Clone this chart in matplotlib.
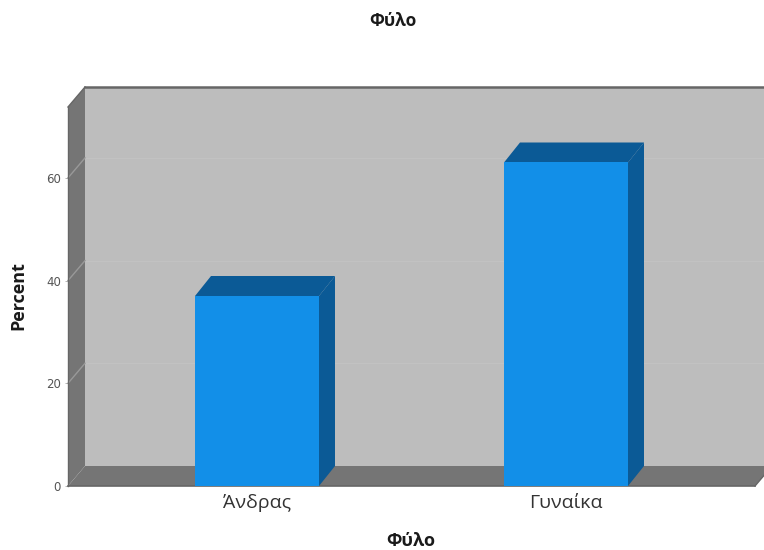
import matplotlib
matplotlib.use("Agg")
import matplotlib.pyplot as plt
from matplotlib.patches import Polygon, Rectangle

categories = ["Άνδρας", "Γυναίκα"]
percent = [37.0, 63.0]
y_ticks = [0, 20, 40, 60]
title_text = "Φύλο"
x_label = "Φύλο"
y_label = "Percent"

WALL = "#bdbdbd"
SIDE = "#757575"
EDGE = "#666666"
BAR = "#128fe8"
BAR_DARK = "#0b5a96"
GRID = "#c2c2c2"
GRID_SIDE = "#999999"

W, H = 764, 550
fig = plt.figure(figsize=(W / 100, H / 100), dpi=100, facecolor="white")
left, right, bottom, top = 68, 755, 486, 107
ax = fig.add_axes([left / W, 1 - bottom / H, (right - left) / W, (bottom - top) / H])

px_per_cat = 309
px_per_unit = 5.135
x0 = 257
ax.set_xlim((left - x0) / px_per_cat, (right - x0) / px_per_cat)
ax.set_ylim(0, (bottom - top) / px_per_unit)
xmin, xmax = ax.get_xlim()
ymin, ymax = ax.get_ylim()

# Oblique offset of the rear plane, in data units
dx = 17 / px_per_cat
dy = 20 / px_per_unit
bar_w = 124 / px_per_cat
bar_dx = 16 / px_per_cat


def poly(points, color, z, **kw):
    ax.add_patch(Polygon(points, closed=True, facecolor=color, edgecolor="none",
                         zorder=z, clip_on=False, **kw))


# Back wall, floor and left wall
poly([(xmin + dx, dy), (xmax + dx, dy), (xmax + dx, ymax + dy), (xmin + dx, ymax + dy)], WALL, 1)
poly([(xmin, 0), (xmax, 0), (xmax + dx, dy), (xmin + dx, dy)], SIDE, 2)
poly([(xmin, 0), (xmin + dx, dy), (xmin + dx, ymax + dy), (xmin, ymax)], SIDE, 2)

# Gridlines run along the back wall and fold down the left wall
for t in y_ticks[1:]:
    ax.plot([xmin + dx, xmax + dx], [t + dy, t + dy], color=GRID, lw=1, zorder=3, clip_on=False)
    ax.plot([xmin, xmin + dx], [t, t + dy], color=GRID_SIDE, lw=1, zorder=3, clip_on=False)

# Frame edges
ax.plot([xmin + dx, xmax + dx], [ymax + dy, ymax + dy], color=EDGE, lw=1.8, zorder=4, clip_on=False)
ax.plot([xmin, xmin + dx], [ymax, ymax + dy], color=EDGE, lw=1, zorder=4, clip_on=False)
ax.plot([xmin, xmin], [0, ymax], color=EDGE, lw=1, zorder=4, clip_on=False)
ax.plot([xmin, xmax], [0, 0], color=EDGE, lw=1.2, zorder=4, clip_on=False)
ax.plot([xmax, xmax + dx], [0, dy], color=EDGE, lw=1, zorder=4, clip_on=False)

# Bars with their top and right faces
for i, v in enumerate(percent):
    l, r = i - bar_w / 2, i + bar_w / 2
    ax.add_patch(Rectangle((l, 0), bar_w, v, facecolor=BAR, edgecolor="none", zorder=6))
    poly([(l, v), (r, v), (r + bar_dx, v + dy), (l + bar_dx, v + dy)], BAR_DARK, 5)
    poly([(r, 0), (r + bar_dx, dy), (r + bar_dx, v + dy), (r, v)], BAR_DARK, 5)

for s in ax.spines.values():
    s.set_visible(False)
ax.patch.set_visible(False)

ax.set_xticks(range(len(categories)), categories, fontsize=14, color="#333333",
              fontfamily="Open Sans")
ax.set_yticks(y_ticks)
ax.tick_params(axis="x", length=0, pad=6)
ax.tick_params(axis="y", length=2, width=0.6, color="#aaaaaa", labelsize=8.5,
               labelcolor="#555555", pad=3)

fig.text(393 / W, 1 - 21 / H, title_text, ha="center", va="center", fontsize=12.5,
         fontweight="bold", family="Open Sans", color="#1a1a1a")
fig.text(411 / W, 1 - 541 / H, x_label, ha="center", va="center", fontsize=13,
         fontweight="bold", family="Open Sans", color="#1a1a1a")
fig.text(18 / W, 1 - 296 / H, y_label, ha="center", va="center", rotation=90, fontsize=13,
         fontweight="bold", family="Open Sans", color="#1a1a1a")

fig.savefig("out.png", dpi=100)
